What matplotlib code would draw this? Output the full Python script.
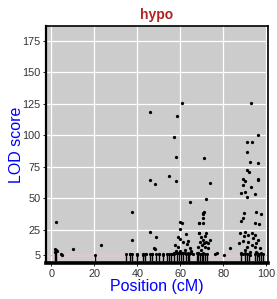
import matplotlib
matplotlib.use("Agg")
import matplotlib.pyplot as plt

plt.rcParams['font.family'] = ['Liberation Sans', 'DejaVu Sans']

# peak LOD points (position cM, LOD)
pts_x = [2.3, 2.0, 2.5, 1.8, 4.6, 5.0, 10.3, 23.0, 37.7, 37.4, 36.5, 40.0,
         45.9, 46.0, 48.4, 46.0, 48.7, 48.0, 48.2, 47.0, 50.0, 52.0, 44.0, 42.5,
         54.9, 58.1, 58.0, 57.2, 58.6, 61.0, 60.0, 60.1, 64.5, 61.0,
         62.5, 58.8, 60.0, 63.7, 61.5, 63.3, 57.5, 59.0, 64.5, 62.2, 58.7, 65.2,
         68.6, 68.6, 57.0, 58.0, 62.0, 60.0, 61.0, 65.0, 66.0, 56.0,
         71.0, 73.8, 72.0, 70.8, 71.2, 70.8, 70.8, 68.6, 70.8, 72.0, 68.6, 71.5,
         69.9, 70.7, 71.8, 71.2, 69.2, 72.7, 70.2, 71.5, 73.8, 73.0, 68.1, 69.9,
         68.4, 76.9, 76.1, 83.1, 80.5,
         92.9, 96.3, 91.0, 93.5, 91.0, 92.4, 96.3, 91.0, 92.1, 96.3, 89.3,
         90.1, 89.3, 92.9, 90.1, 88.5, 94.7, 90.9, 96.3,
         89.8, 89.0, 88.5, 95.2, 97.4, 94.7, 96.8,
         87.5, 89.3, 87.8, 89.8, 90.1, 91.6, 93.2, 94.0, 94.7, 95.5, 96.3, 93.2,
         91.6, 90.9, 90.1, 94.7, 97.1, 92.4, 95.5, 88.5, 89.3, 96.3, 92.4]
pts_y = [31.5, 9.0, 8.0, 7.5, 6.0, 5.5, 9.7, 13.3, 39.0, 17.0, 6.0, 6.0,
         118.2, 65.0, 61.6, 23.5, 19.6, 11.0, 10.0, 6.0, 6.0, 6.0, 6.0, 6.0,
         68.0, 64.0, 83.0, 98.4, 115.5, 125.8, 31.0, 25.4, 47.4, 30.2,
         21.5, 19.1, 17.5, 16.4, 15.6, 13.8, 13.0, 11.7, 10.4, 9.0, 6.9, 8.2,
         30.2, 22.3, 7.0, 8.0, 7.0, 8.0, 7.0, 7.0, 6.0, 6.0,
         81.7, 62.4, 49.2, 38.6, 39.5, 37.3, 34.2, 30.2, 30.2, 22.8, 22.3, 20.4,
         19.1, 17.0, 15.7, 14.3, 15.7, 10.4, 13.0, 11.7, 17.0, 14.3, 11.7, 9.0,
         6.9, 6.4, 5.9, 10.4, 5.0,
         125.3, 100.0, 94.4, 95.0, 86.5, 79.1, 77.8, 72.2, 71.2, 65.1, 65.1,
         63.8, 60.6, 58.7, 55.3, 54.5, 53.2, 50.8, 64.5,
         38.1, 34.2, 32.3, 38.9, 37.3, 30.2, 29.4,
         14.3, 16.4, 22.3, 20.1, 23.6, 20.9, 22.3, 18.3, 20.9, 14.9, 17.0, 13.0,
         15.7, 11.7, 9.0, 11.7, 10.4, 7.7, 7.7, 6.9, 5.9, 5.1, 5.1]

# dense low-LOD markers along the baseline
rug_x = [1.9, 2.3, 20.5, 34.6, 36.6, 37.7, 40.0, 42.8, 43.4, 45.8, 46.9, 48.5,
         50.0, 52.0, 53.8, 54.6, 55.7, 56.9, 58.5, 59.4, 60.3, 61.2, 62.5, 63.4,
         64.3, 67.7, 68.5, 69.2, 70.0, 70.8, 71.5, 72.3, 88.5, 90.0, 91.1, 92.0,
         94.6, 95.7, 96.6, 97.7, 98.5]
rug_top = [9.5, 8.5, 5.5, 6.0, 6.0, 6.0, 5.5, 5.5, 6.0, 6.0, 6.0, 6.0,
           6.0, 5.5, 6.0, 6.0, 6.0, 6.0, 7.0, 7.0, 6.5, 6.5, 6.0, 6.5,
           6.0, 6.5, 6.5, 6.0, 6.0, 6.5, 6.0, 6.0, 6.0, 6.5, 6.0, 6.0,
           6.0, 6.5, 6.0, 6.5, 6.0]

threshold = 5.4
yticks = [5, 25, 50, 75, 100, 125, 150, 175]
xticks = [0, 20, 40, 60, 80, 100]

fig = plt.figure(figsize=(2.77, 2.99), dpi=100)
ax = fig.add_axes([0.166, 0.12, 0.801, 0.793])
ax.set_facecolor('#cccccc')
ax.set_axisbelow(True)
ax.grid(True, color='white', lw=0.9)

ax.axhline(threshold, color='#ffb6c1', lw=1.0, zorder=1)
ax.vlines(rug_x, 0, rug_top, color='black', lw=1.0, zorder=2)
ax.scatter(rug_x, rug_top, s=5, color='black', lw=0, zorder=3)
ax.scatter(pts_x, pts_y, s=5.5, color='black', lw=0, zorder=3)

ax.set_xlim(-2.5, 100.8)
ax.set_ylim(-1.3, 186.7)
ax.set_xticks(xticks)
ax.set_yticks(yticks)
ax.tick_params(labelsize=7.8, labelcolor='#333333', length=2.5, width=0.6, pad=1.5)

for s in ax.spines.values():
    s.set_linewidth(1.2)
ax.spines['bottom'].set_linewidth(2.6)
ax.spines['left'].set_linewidth(1.6)

ax.set_title('hypo', color='#b22222', fontsize=10, fontweight='bold', pad=5)
ax.set_xlabel('Position (cM)', color='blue', fontsize=11.5, labelpad=0)
ax.set_ylabel('LOD score', color='blue', fontsize=11.5, labelpad=-1)

fig.savefig('out.png', dpi=100)
